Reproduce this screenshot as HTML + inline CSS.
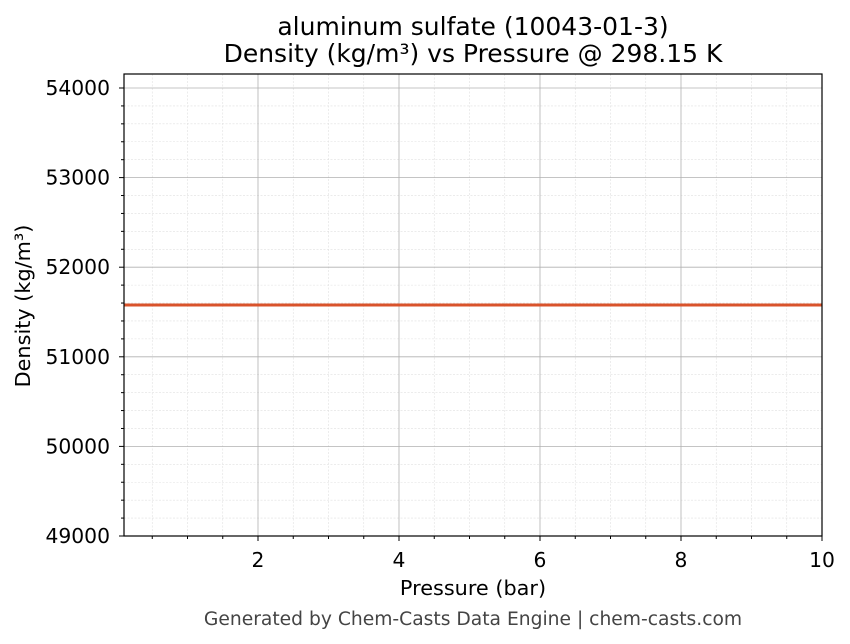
<!DOCTYPE html>
<html><head><style>body{margin:0;background:#fff}svg{display:block}text{font-family:"DejaVu Sans","Liberation Sans",sans-serif}</style></head>
<body>
<svg width="850" height="644" xmlns="http://www.w3.org/2000/svg">
<rect width="850" height="644" fill="#fff"/>
<g id="minor" stroke="#e0e0e0" stroke-width="0.6" stroke-dasharray="2,1.5"></g>
<g id="major" stroke="#b0b0b0" stroke-width="0.8"></g>
<line x1="124" y1="305" x2="822" y2="305" stroke="#d9532b" stroke-width="3"/>
<rect x="124" y="74" width="698" height="462" fill="none" stroke="#000" stroke-width="1.2"/>
<g id="ticks" stroke="#000" stroke-width="1"></g>
<g id="labels" font-size="20.3" fill="#000"></g>
<text x="473" y="35" font-size="25" text-anchor="middle">aluminum sulfate (10043-01-3)</text>
<text x="473" y="62" font-size="25" text-anchor="middle">Density (kg/m³) vs Pressure @ 298.15 K</text>
<text x="473" y="595" font-size="20.8" text-anchor="middle">Pressure (bar)</text>
<text transform="translate(30,306) rotate(-90)" font-size="20.8" text-anchor="middle">Density (kg/m³)</text>
<text x="473" y="625" font-size="18.7" fill="#444" text-anchor="middle">Generated by Chem-Casts Data Engine | chem-casts.com</text>
<script>
var ns="http://www.w3.org/2000/svg";
function L(g,x1,y1,x2,y2){var l=document.createElementNS(ns,"line");l.setAttribute("x1",x1);l.setAttribute("y1",y1);l.setAttribute("x2",x2);l.setAttribute("y2",y2);document.getElementById(g).appendChild(l);}
function T(x,y,s,a){var t=document.createElementNS(ns,"text");t.setAttribute("x",x);t.setAttribute("y",y);t.setAttribute("text-anchor",a);t.textContent=s;document.getElementById("labels").appendChild(t);}
function X(v){return 117+70.5*v;}function Y(v){return 536-(v-49000)*0.0896;}
for(var v=0.5;v<=10.01;v+=0.5){var x=X(v);if(x<124)continue;
 if(Math.abs(v-Math.round(v/2)*2)<0.01){L("major",x,74,x,536);L("ticks",x,536,x,541);T(x,567,String(Math.round(v)),"middle");}
 else{L("minor",x,74,x,536);L("ticks",x,536,x,539);}}
for(var v=49000;v<=54100;v+=200){var y=Y(v);if(y<74)continue;
 if(v%1000==0){L("major",124,y,822,y);L("ticks",119,y,124,y);T(110,y+7,String(v),"end");}
 else{L("minor",124,y,822,y);L("ticks",121,y,124,y);}}
</script>
</svg>
</body></html>
